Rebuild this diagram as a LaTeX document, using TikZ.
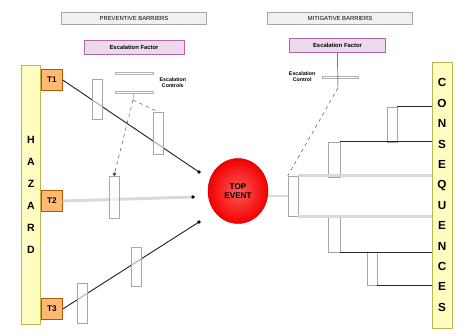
\documentclass[tikz,border=0pt]{standalone}
\usepackage{fontspec}
\setmainfont{Liberation Sans}
\usetikzlibrary{positioning,calc,shapes.geometric,arrows.meta}

\begin{document}
\begin{tikzpicture}
   [x=0.03cm,y=-0.03cm,
    header/.style={draw=gray!70, fill=gray!12, minimum width=4.35cm,
      minimum height=0.36cm, inner sep=1pt, font=\fontsize{5}{6}\selectfont},
    factor/.style={draw=violet!60, fill=violet!15, minimum width=#1,
      minimum height=0.42cm, inner sep=1pt, font=\fontsize{5}{6}\selectfont\bfseries},
    threat/.style={draw=orange!70!black, fill=orange!55, minimum size=0.63cm,
      inner sep=0pt, font=\scriptsize\bfseries},
    barrier/.style={draw=gray!70, fill=white, fill opacity=0.6, text opacity=1,
      minimum width=0.3cm, minimum height=#1, inner sep=0pt},
    ctrl/.style={draw=gray!60, minimum width=1.14cm, minimum height=0.06cm, inner sep=0pt},
    sidebar/.style={draw=olive!60, fill=yellow!25, minimum width=0.57cm,
      minimum height=#1, inner sep=0pt, align=center},
    escal/.style={font=\fontsize{4.5}{5}\selectfont\bfseries, align=center, inner sep=1pt},
    lead/.style={thick, black!85},
    flow/.style={line width=2.5pt, gray!30},
    cont/.style={dashed, black!70}]
\useasboundingbox (0,0) rectangle (461,333);

\node [header] (lhead) at (134,18) {PREVENTIVE BARRIERS};
\node [header] (rhead) at (340,18) {MITIGATIVE BARRIERS};
\node [factor=3cm, below=0.48cm of lhead] (lfac) {Escalation Factor};
\node [factor=2.88cm, below=0.42cm of rhead.south west, anchor=north west, xshift=0.66cm] (rfac) {Escalation Factor};

\node [sidebar=7.77cm, font=\fontsize{9}{18.7}\selectfont\bfseries] (haz) at (31,195)
  {H\\A\\Z\\A\\R\\D};
\node [sidebar=7.98cm, minimum width=0.6cm, font=\fontsize{10}{17.4}\selectfont\bfseries] (cons) at (442,195)
  {C\\O\\N\\S\\E\\Q\\U\\E\\N\\C\\E\\S};

\node [threat] (t1) at (52,80) {T1};
\node [threat] (t2) at (52,201) {T2};
\node [threat] (t3) at (52,309) {T3};

\node [ellipse, minimum width=1.8cm, minimum height=1.95cm, draw=red!80!black,
  inner color=red!65, outer color=red!95!black, align=center,
  font=\scriptsize\bfseries] (top) at (238,191) {TOP\\EVENT};

\coordinate (d1) at (199,172);
\coordinate (d2) at (193,197);
\coordinate (d3) at (199,222);

\draw [flow] (t2.east) -- (d2);
\draw [lead] (t1.east) -- (d1);
\draw [lead] (t3.east) -- (d3);
\foreach \d in {d1,d2,d3}
  \fill (\d) circle (1.6pt);

\node [barrier=1.2cm] (lb1) at (97,99) {};
\node [barrier=1.26cm] (lb2) at (158,133) {};
\node [barrier=1.26cm] (lb3) at (114,197) {};
\node [barrier=1.17cm] (lb4) at (136,267) {};
\node [barrier=1.2cm] (lb5) at (82,303) {};

\node [ctrl] (lc1) at (134,73) {};
\node [ctrl] (lc2) at (134,92) {};
\node [escal, right=0.15cm of $(lc1.east)!0.5!(lc2.east)$] (llab) {Escalation\\Controls};
\coordinate (lcx) at (133,100);
\draw [gray!70] (lc2) -- (lcx);
\draw [cont] (lcx) -- (lb2.north);
\draw [cont, -{Circle[length=3pt]}] (lcx) -- (lb3.north);

\node [barrier=1.2cm, minimum width=0.3cm] (rb0) at (293,196) {};
\node [barrier=1.05cm, minimum width=0.36cm] (rb1) at (334,159.5) {};
\node [barrier=1.05cm] (rb2) at (392,124.5) {};
\node [barrier=1.11cm, minimum width=0.36cm] (rb3) at (334,233.5) {};
\node [barrier=0.99cm] (rb4) at (372,268.5) {};

\draw [flow] (rb0.west -| top.east) -- (rb0.west);
\draw [flow] (rb0.north east) -- (rb0.north east -| cons.west);
\draw [flow] (rb0.south east) -- (rb0.south east -| cons.west);
\draw [lead] (rb1.north east) -- (rb1.north east -| cons.west);
\draw [lead] (rb2.north east) -- (rb2.north east -| cons.west);
\draw [lead] (rb3.south east) -- (rb3.south east -| cons.west);
\draw [lead] (rb4.south east) -- (rb4.south east -| cons.west);

\node [ctrl, minimum width=1.08cm] (rc1) at (340,77) {};
\coordinate (rcx) at (338,88);
\draw [black!80] (rfac.south) -- (rcx);
\node [escal, left=0.15cm of rc1] (rlab) {Escalation\\Control};
\draw [cont] (rcx) -- (rb0.north west);
\end{tikzpicture}
\end{document}
